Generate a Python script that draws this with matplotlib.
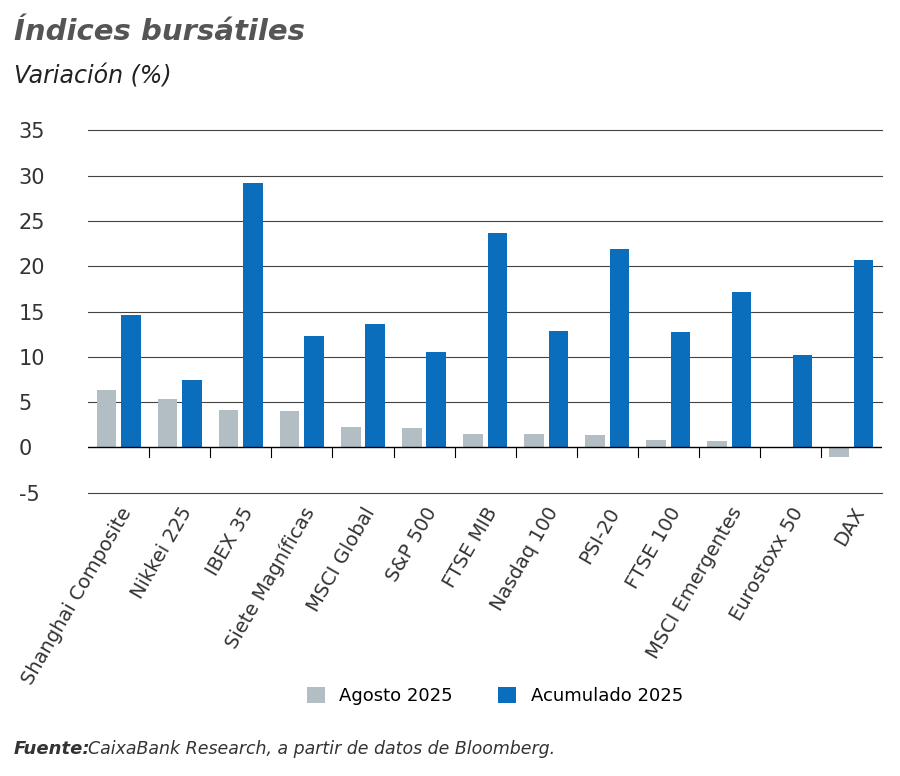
import matplotlib
matplotlib.use('Agg')
import matplotlib.pyplot as plt
import numpy as np

plt.rcParams['axes.unicode_minus'] = False

categories = ['Shanghai Composite', 'Nikkei 225', 'IBEX 35', 'Siete Magníficas', 'MSCI Global',
              'S&P 500', 'FTSE MIB', 'Nasdaq 100', 'PSI-20', 'FTSE 100', 'MSCI Emergentes',
              'Eurostoxx 50', 'DAX']
agosto = [6.3, 5.3, 4.1, 4.0, 2.3, 2.1, 1.5, 1.5, 1.4, 0.8, 0.7, 0.05, -1.0]
acumulado = [14.6, 7.4, 29.2, 12.3, 13.6, 10.5, 23.7, 12.8, 21.9, 12.7, 17.2, 10.2, 20.7]

grey = '#b3bec4'
blue = '#0a6ebd'
text_col = '#333333'

fig = plt.figure(figsize=(9, 7.76), dpi=100)
ax = fig.add_axes([0.098, 0.365, 0.882, 0.467])

x = np.arange(len(categories))
w = 0.32
ax.bar(x - 0.2, agosto, w, color=grey, label='Agosto 2025', zorder=3)
ax.bar(x + 0.2, acumulado, w, color=blue, label='Acumulado 2025', zorder=3)

ax.set_ylim(-5, 35)
ax.set_xlim(-0.5, len(categories) - 0.5)
yticks = list(range(-5, 36, 5))
ax.set_yticks(yticks)
for t in yticks:
    if t != 0:
        ax.axhline(t, color='#444444', linewidth=0.8, zorder=0, clip_on=False)
ax.axhline(0, color='black', linewidth=1, zorder=4)
for s in ax.spines.values():
    s.set_visible(False)
ax.tick_params(axis='y', length=0, labelsize=15, colors=text_col, pad=50)
for lbl in ax.get_yticklabels():
    lbl.set_horizontalalignment('left')
ax.set_xticks(x)
ax.set_xticklabels(categories, rotation=60, ha='right', rotation_mode='anchor',
                   fontsize=14, color=text_col)
ax.tick_params(axis='x', length=0, pad=8)
for b in x[:-1] + 0.5:
    ax.plot([b, b], [0, -1.0], color='black', linewidth=0.8, zorder=4)

fig.text(0.015, 0.948, 'Índices bursátiles', fontsize=21, fontweight='bold',
         style='italic', color='#555555')
fig.text(0.015, 0.893, 'Variación (%)', fontsize=17, style='italic', color='#222222')

fig.legend(loc='lower center', bbox_to_anchor=(0.55, 0.07), ncol=2, frameon=False,
           fontsize=13, handlelength=1.0, handleheight=1.0, columnspacing=2.5)

fig.text(0.015, 0.028, 'Fuente:', fontsize=13, style='italic', fontweight='bold',
         color=text_col)
fig.text(0.098, 0.028, 'CaixaBank Research, a partir de datos de Bloomberg.',
         fontsize=12.5, style='italic', color=text_col)

fig.savefig('out.png', dpi=100, facecolor='white')
